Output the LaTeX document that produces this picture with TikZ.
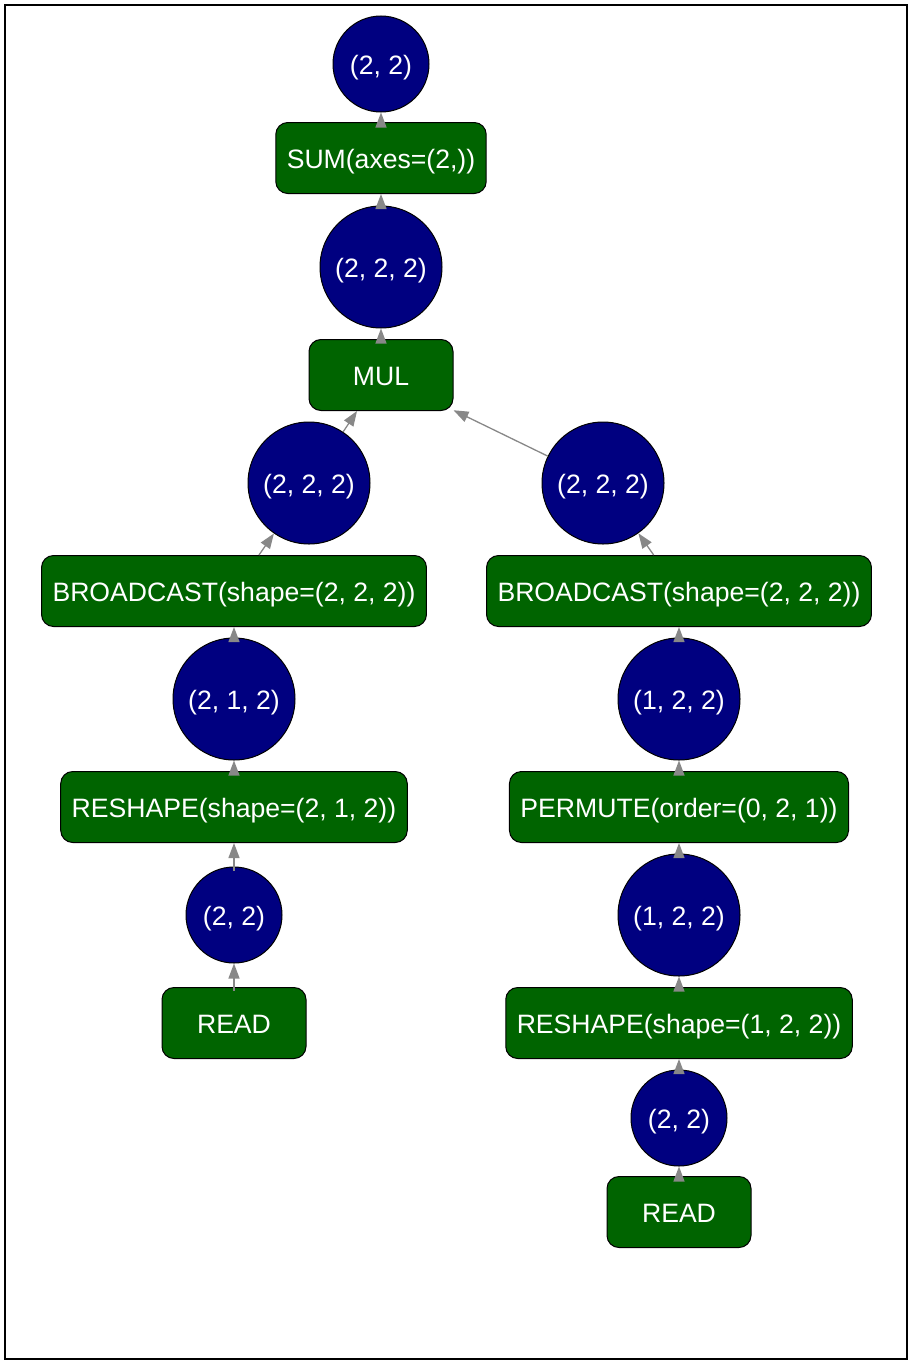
\documentclass[tikz,border=0pt]{standalone}
\usepackage{fontspec}
\setmainfont{Liberation Sans}
\usetikzlibrary{arrows.meta}

\definecolor{opgreen}{HTML}{006400}
\definecolor{tensorblue}{HTML}{000080}
\definecolor{edgegray}{HTML}{888888}

\begin{document}
\begin{tikzpicture}[x=1pt, y=1pt, node distance=108pt, >={Triangle[length=15pt, width=11pt]},
    op/.style={draw, fill=opgreen, rectangle, rounded corners=12pt, line width=1pt, minimum height=71pt, minimum width=144pt, inner xsep=11pt, text height=21pt, text depth=0pt, text=white, font=\fontsize{26.6pt}{32pt}\selectfont},
    tensor/.style={draw, fill=tensorblue, circle, line width=1pt, inner sep=0pt, minimum size=#1, text height=21pt, text depth=0pt, text=white, font=\fontsize{26.6pt}{32pt}\selectfont},
    tensor/.default=122pt,
    flow/.style={->, color=edgegray, line width=1.3pt},
    link/.style={flow, shorten <=-4pt}]

    \useasboundingbox (0,0) rectangle (914,-1365);
    \draw [line width=1.2pt] (5,-5) rectangle (907,-1359);

    % Nodes
    \node [tensor=96pt] (out) at (381,-64) {(2, 2)};
    \node [op, below of=out, node distance=94pt] (sum) {SUM(axes=(2,))};
    \node [tensor, below of=sum, node distance=109pt] (mul_out) {(2, 2, 2)};
    \node [op, below of=mul_out] (mul) {MUL};

    % Left branch
    \node [tensor, below of=mul, xshift=-72pt] (bcl_out) {(2, 2, 2)};
    \node [op, below of=bcl_out, xshift=-75pt] (bcl) {BROADCAST(shape=(2, 2, 2))};
    \node [tensor, below of=bcl] (rsl_out) {(2, 1, 2)};
    \node [op, below of=rsl_out] (rsl) {RESHAPE(shape=(2, 1, 2))};
    \node [tensor=96pt, below of=rsl] (readl_out) {(2, 2)};
    \node [op, below of=readl_out] (readl) {READ};

    % Right branch
    \node [tensor, below of=mul, xshift=222pt] (bcr_out) {(2, 2, 2)};
    \node [op, below of=bcr_out, xshift=76pt] (bcr) {BROADCAST(shape=(2, 2, 2))};
    \node [tensor, below of=bcr] (perm_out) {(1, 2, 2)};
    \node [op, below of=perm_out] (perm) {PERMUTE(order=(0, 2, 1))};
    \node [tensor, below of=perm] (rsr_out) {(1, 2, 2)};
    \node [op, below of=rsr_out] (rsr) {RESHAPE(shape=(1, 2, 2))};
    \node [tensor=96pt, below of=rsr, node distance=95pt] (readr_out) {(2, 2)};
    \node [op, below of=readr_out, node distance=94pt] (readr) {READ};

    % Arrows
    \draw [link] (sum) -- (out);
    \draw [link] (mul_out) -- (sum);
    \draw [link] (mul) -- (mul_out);
    \draw [flow] (bcl_out) -- (mul);
    \draw [flow] (bcr_out) -- (mul);

    \draw [flow] (bcl) -- (bcl_out);
    \draw [link] (rsl_out) -- (bcl);
    \draw [link] (rsl) -- (rsl_out);
    \draw [link] (readl_out) -- (rsl);
    \draw [link] (readl) -- (readl_out);

    \draw [flow] (bcr) -- (bcr_out);
    \draw [link] (perm_out) -- (bcr);
    \draw [link] (perm) -- (perm_out);
    \draw [link] (rsr_out) -- (perm);
    \draw [link] (rsr) -- (rsr_out);
    \draw [link] (readr_out) -- (rsr);
    \draw [link] (readr) -- (readr_out);

\end{tikzpicture}
\end{document}
